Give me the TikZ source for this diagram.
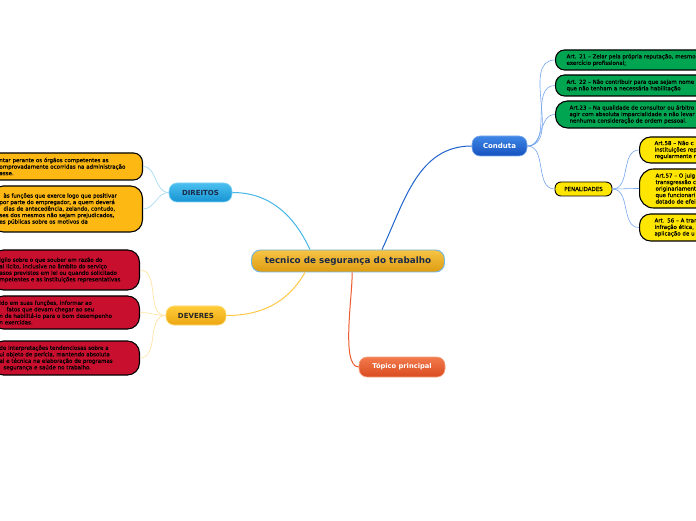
\documentclass[tikz,border=0pt]{standalone}
\usepackage{fontspec}
\setmainfont{DejaVu Sans}
\newfontfamily\leaffont{DejaVu Sans}[FakeBold=0.5]
\usetikzlibrary{calc}
\definecolor{titletop}{HTML}{F6C445}
\definecolor{titlebot}{HTML}{DE9C12}
\definecolor{titleedge}{HTML}{6FB8E6}
\definecolor{titletext}{HTML}{1B2A48}
\definecolor{dirtop}{HTML}{4CC0F0}
\definecolor{dirbot}{HTML}{1593D2}
\definecolor{devtop}{HTML}{FFCC3A}
\definecolor{devbot}{HTML}{EBA612}
\definecolor{contop}{HTML}{3F86E6}
\definecolor{conbot}{HTML}{1552BE}
\definecolor{toptop}{HTML}{F27A4C}
\definecolor{topbot}{HTML}{D94B1F}
\definecolor{greenleaf}{HTML}{00A551}
\definecolor{yellowleaf}{HTML}{FFE600}
\definecolor{orangeleaf}{HTML}{FDB813}
\definecolor{redleaf}{HTML}{C8102E}
\definecolor{dirline}{HTML}{45B6E6}
\definecolor{conline}{HTML}{1F63CC}
\definecolor{devline}{HTML}{FFC845}
\definecolor{topline}{HTML}{EC5B2E}
\definecolor{dirsub}{HTML}{9ED8F2}
\definecolor{devsub}{HTML}{FFE29A}
\definecolor{consub}{HTML}{75A5EE}
\tikzset{
	maintopic/.style={rounded corners=9pt, minimum width=193pt, minimum height=22pt,
		top color=titletop, bottom color=titlebot, draw=titleedge, line width=0.9pt,
		text=titletext, font=\fontsize{8.8}{10}\selectfont\bfseries},
	branch/.style={rounded corners=8pt, minimum height=19pt, line width=0.6pt,
		font=\fontsize{7}{8}\selectfont\bfseries},
	leaf/.style={rounded corners=9pt, draw=black, line width=1.1pt, align=left,
		inner xsep=8pt, inner ysep=2pt, font=\leaffont\fontsize{5.5}{6.5}\selectfont},
	mainline/.style={line width=1pt},
	subline/.style={line width=0.6pt}
}
\begin{document}
\begin{tikzpicture}[x=1pt, y=1pt]
	\useasboundingbox (0,0) rectangle (696,520);
	\fill[white] (0,0) rectangle (696,520);
	\clip (0,0) rectangle (696,520);
	% main topics
	\node[maintopic] (title) at (348,259) {tecnico de segurança do trabalho};
	\node[branch, minimum width=63pt, top color=dirtop, bottom color=dirbot, draw=dirtop!70!white, text=titletext] (direitos) at (200.5,327.5) {DIREITOS};
	\node[branch, minimum width=60pt, top color=devtop, bottom color=devbot, draw=devtop!70!white, text=black!85] (deveres) at (196,204.5) {DEVERES};
	\node[branch, minimum width=55pt, minimum height=20pt, top color=contop, bottom color=conbot, draw=contop!70!white, text=white] (conduta) at (499.5,374) {Conduta};
	\node[branch, minimum width=86pt, minimum height=20pt, top color=toptop, bottom color=topbot, draw=toptop!70!white, text=white, font=\fontsize{6.7}{8}\selectfont\bfseries] (topico) at (402,153) {Tópico principal};
	\node[leaf, rounded corners=6pt, fill=yellowleaf, line width=0.9pt, minimum width=57pt, minimum height=14pt, inner xsep=4pt, align=center] (penal) at (583.5,331) {PENALIDADES};
	% DIREITOS
	\node[leaf, fill=orangeleaf, anchor=east, text width=135pt, minimum height=27pt] (d1) at (143,353.5)
		{ntar perante os órgãos competentes as\\omprovadamente ocorridas na administração\\asse.};
	\node[leaf, fill=orangeleaf, anchor=east, text width=135pt, minimum height=46pt, rounded corners=12pt] (d2) at (143,311)
		{\hspace*{4pt}às funções que exerce logo que positivar\\por parte do empregador, a quem deverá\\\hspace*{4pt}dias de antecedência, zelando, contudo,\\ses dos mesmos não sejam prejudicados,\\es públicas sobre os motivos da};
	% DEVERES
	\node[leaf, fill=redleaf, anchor=east, text width=132pt, minimum height=40pt, rounded corners=12pt] (r1) at (140,250)
		{igilo sobre o que souber em razão do\\al lícito, inclusive no âmbito do serviço\\asos previstos em lei ou quando solicitado\\mpetentes e as instituições representativas};
	\node[leaf, fill=redleaf, anchor=east, text width=132pt, minimum height=33pt, rounded corners=12pt] (r2) at (140,207.5)
		{ido em suas funções, informar ao\\\hspace*{7pt}fatos que devam chegar ao seu\\n de habilitá-lo para o bom desempenho\\n exercidas.};
	\node[leaf, fill=redleaf, anchor=east, text width=132pt, minimum height=34pt, rounded corners=12pt] (r3) at (140,162)
		{de interpretações tendenciosas sobre a\\ui objeto de perícia, mantendo absoluta\\al e técnica na elaboração de programas\\\hspace*{4pt}segurança e saúde no trabalho.};
	% Conduta
	\node[leaf, fill=greenleaf, anchor=west, text width=180pt, inner xsep=11pt, minimum height=20pt] (g1) at (555,460)
		{Art. 21 – Zelar pela própria reputação, mesmo\\exercício profissional;};
	\node[leaf, fill=greenleaf, anchor=west, text width=180pt, inner xsep=11pt, minimum height=21pt] (g2) at (555,434.5)
		{Art. 22 – Não contribuir para que sejam nome\\que não tenham a necessária habilitação};
	\node[leaf, fill=greenleaf, anchor=west, text width=180pt, inner xsep=14pt, minimum height=27pt, rounded corners=12pt] (g3) at (555,405.5)
		{Art.23 – Na qualidade de consultor ou árbitro\\agir com absoluta imparcialidade e não levar\\nenhuma consideração de ordem pessoal.};
	% PENALIDADES
	\node[leaf, fill=yellowleaf, anchor=west, text width=100pt, inner xsep=15pt, minimum height=26pt, rounded corners=11pt] (p1) at (639,370)
		{Art.58 – Não c\\instituições rep\\regularmente r};
	\node[leaf, fill=yellowleaf, anchor=west, text width=100pt, inner xsep=16pt, minimum height=39pt, rounded corners=14pt] (p2) at (639,331.5)
		{Art.57 – O julg\\transgressão c\\originariament\\que funcionari\\dotado de efei};
	\node[leaf, fill=yellowleaf, anchor=west, text width=100pt, inner xsep=15pt, minimum height=27pt, rounded corners=11pt] (p3) at (639,292.5)
		{Art. 56 – A tran\\infração ética, \\aplicação de u};
	% connectors
	\draw[mainline, dirline] ($(title.north)+(-38,0)$) to[out=115, in=0] (direitos.east);
	\draw[mainline, conline] ($(title.north)+(34,0)$) to[out=65, in=180] (conduta.west);
	\draw[mainline, devline] ($(title.south)+(-43,0)$) to[out=240, in=0] (deveres.east);
	\draw[mainline, topline] ($(title.south)+(4,0)$) to[out=-86, in=180, looseness=0.5] (topico.west);
	\foreach \leafname in {d1,d2}
		\draw[subline, dirsub] (direitos.west) to[out=180, in=0] (\leafname.east);
	\foreach \leafname in {r1,r2,r3}
		\draw[subline, devsub] (deveres.west) to[out=180, in=0] (\leafname.east);
	\foreach \leafname in {g1,g2,g3,penal}
		\draw[subline, consub] (conduta.east) to[out=0, in=180] (\leafname.west);
	\foreach \leafname in {p1,p2,p3}
		\draw[subline, consub] (penal.east) to[out=0, in=180] (\leafname.west);
\end{tikzpicture}
\end{document}
